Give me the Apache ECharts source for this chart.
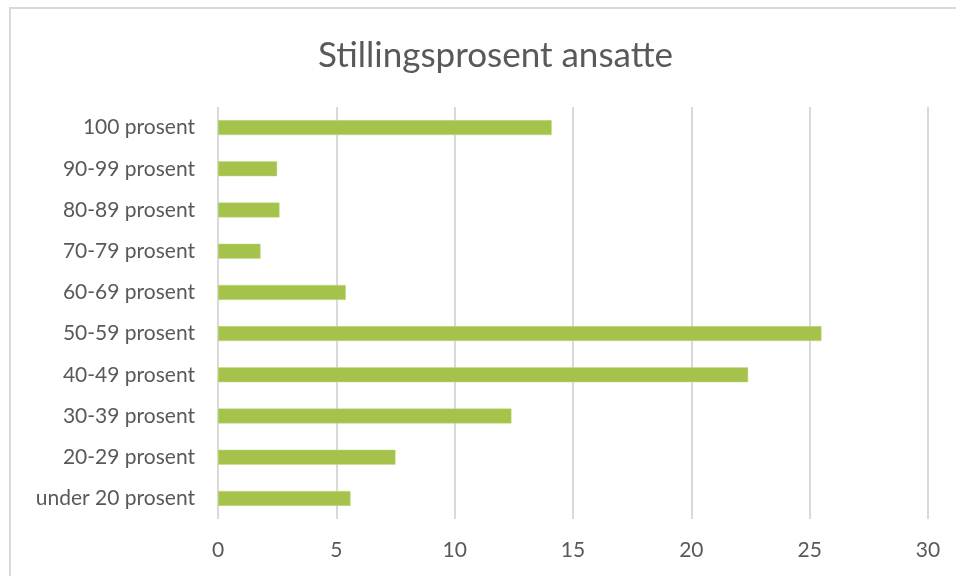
<!DOCTYPE html>
<html lang="no">

<head>
    <meta charset="UTF-8">
    <title>Stillingsprosent ansatte</title>
    <script src="https://cdn.jsdelivr.net/npm/echarts@6/dist/echarts.min.js"></script>
    <style>
        html, body { margin: 0; padding: 0; background: #fff; }
        #chart { width: 956px; height: 576px; }
    </style>
</head>

<body>
    <div id="chart"></div>

    <script>
        // data (bottom to top, as the axis draws them)
        var categories = ['under 20 prosent', '20-29 prosent', '30-39 prosent', '40-49 prosent', '50-59 prosent',
            '60-69 prosent', '70-79 prosent', '80-89 prosent', '90-99 prosent', '100 prosent'];
        var values = [5.6, 7.5, 12.4, 22.4, 25.5, 5.4, 1.8, 2.6, 2.5, 14.1];
        var xTicks = [0, 5, 10, 15, 20, 25, 30];

        var font = 'Lato, "Open Sans", sans-serif';
        var chart = echarts.init(document.getElementById('chart'));

        chart.setOption({
            animation: false,
            title: {
                text: 'Stillingsprosent ansatte',
                left: 313,
                top: 33,
                textStyle: { fontFamily: font, fontSize: 35, fontWeight: 'normal', color: '#595959' }
            },
            graphic: [{
                type: 'rect',
                shape: { x: 10, y: 8, width: 1000, height: 1000 },
                style: { fill: 'none', stroke: '#d9d9d9', lineWidth: 2 },
                silent: true
            }],
            grid: { left: 218, right: 28, top: 107, bottom: 57, containLabel: false },
            xAxis: {
                type: 'value',
                min: xTicks[0],
                max: xTicks[xTicks.length - 1],
                interval: 5,
                axisLine: { show: false },
                axisTick: { show: false },
                splitLine: { lineStyle: { color: '#d9d9d9', width: 2 } },
                axisLabel: { fontFamily: font, fontSize: 21, color: '#595959', margin: 21 }
            },
            yAxis: {
                type: 'category',
                data: categories,
                axisLine: { show: false },
                axisTick: { show: false },
                axisLabel: { fontFamily: font, fontSize: 21, color: '#595959', margin: 23 }
            },
            series: [{
                type: 'bar',
                data: values,
                barWidth: 15,
                itemStyle: { color: '#a5c24a', borderColor: '#c5db8a', borderWidth: 0.5 }
            }]
        });
    </script>
</body>

</html>
